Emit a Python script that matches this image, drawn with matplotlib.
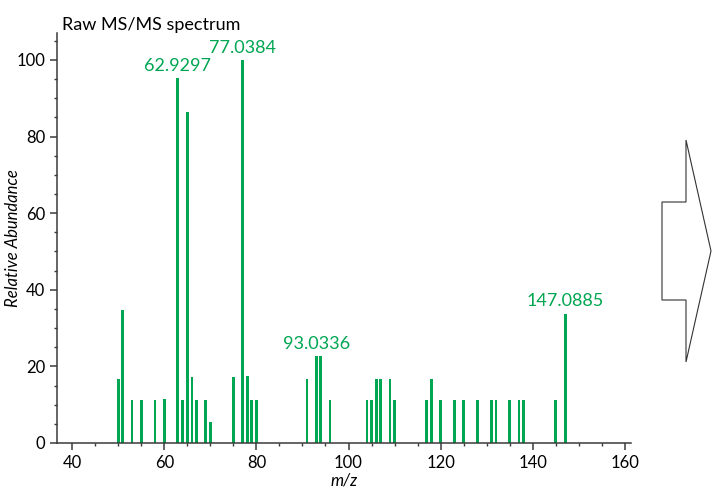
import matplotlib.pyplot as plt
from matplotlib.patches import Polygon
from matplotlib.ticker import MultipleLocator

# fragment ions: m/z and relative abundance (%)
mz = [50, 51, 53, 55, 58, 60, 62.9297, 64, 65, 66, 67, 69, 70,
      75, 77.0384, 78, 79, 80, 91, 93.0336, 94, 96,
      104, 105, 106, 107, 109, 110, 117, 118, 120, 123, 125, 128,
      131, 132, 135, 137, 138, 145, 147.0885]
abundance = [16.8, 34.6, 11.1, 11.1, 11.1, 11.6, 95.2, 11.1, 86.5, 17.2, 11.1, 11.1, 5.5,
             17.2, 100, 17.4, 11.1, 11.1, 16.8, 22.6, 22.6, 11.1,
             11.1, 11.1, 16.8, 16.8, 16.8, 11.1, 11.1, 16.8, 11.1, 11.1, 11.1, 11.1,
             11.1, 11.1, 11.1, 11.1, 11.1, 11.1, 33.8]
labelled = [62.9297, 77.0384, 93.0336, 147.0885]

green = "#00a651"
axis_col = "#3a3a3a"

plt.rcParams["font.family"] = ["Lato", "DejaVu Sans"]

fig = plt.figure(figsize=(7.12, 4.92), dpi=100)
ax = fig.add_axes([0.080, 0.0996, 0.806, 0.833])

ax.bar(mz, abundance, width=0.6, color=green, linewidth=0)

for m in labelled:
    h = abundance[mz.index(m)]
    ax.text(m, h + 1.9, f"{m:.4f}", color=green, fontsize=13,
            ha="center", va="baseline")

ax.set_xlim(36.7, 161.3)
ax.set_ylim(0, 107)
ax.xaxis.set_major_locator(MultipleLocator(20))
ax.xaxis.set_minor_locator(MultipleLocator(5))
ax.yaxis.set_major_locator(MultipleLocator(20))
ax.yaxis.set_minor_locator(MultipleLocator(5))

for s in ["top", "right"]:
    ax.spines[s].set_visible(False)
for s in ["left", "bottom"]:
    ax.spines[s].set_color(axis_col)
    ax.spines[s].set_linewidth(1.1)

ax.tick_params(which="major", length=5, width=1.1, color=axis_col, labelsize=12)
ax.tick_params(which="minor", length=2.5, width=1.0, color=axis_col)

ax.set_xlabel("m/z", fontsize=12, style="italic", labelpad=1)
ax.set_ylabel("Relative Abundance", fontsize=12, style="italic")
ax.yaxis.set_label_coords(-0.062, 0.5)

fig.text(62 / 712, 1 - 30 / 492, "Raw MS/MS spectrum", fontsize=13, va="baseline")

# arrow pointing to the next panel
arrow = [(662, 202), (686, 202), (686, 140), (711, 251), (686, 362),
         (686, 300), (662, 300)]
arrow = [(x / 712, 1 - y / 492) for x, y in arrow]
fig.patches.append(Polygon(arrow, closed=True, transform=fig.transFigure,
                           facecolor="white", edgecolor="#333333", linewidth=0.8))

fig.savefig("out.png", dpi=100)
